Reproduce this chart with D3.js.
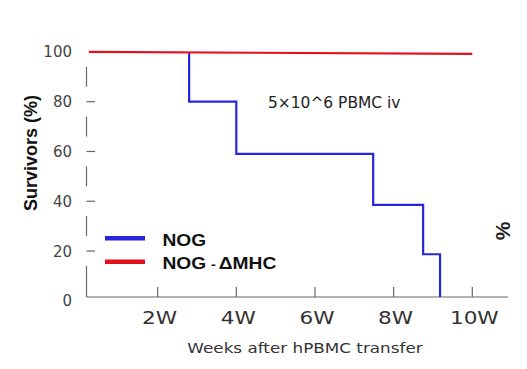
<!DOCTYPE html>
<html><head><meta charset="utf-8">
<script src="https://cdn.jsdelivr.net/npm/d3@7"></script>
<style>body{margin:0;background:#fff}svg{display:block}</style>
</head><body>
<svg id="c" width="527" height="369"></svg>
<script>
// ---- data ----
const xTicks = [2, 4, 6, 8, 10];
const xTickLabels = ["2W", "4W", "6W", "8W", "10W"];
const yTicks = [0, 20, 40, 60, 80, 100];
const yTickLabels = ["0", "20", "40", "60", "80", "100"];
// NOG (blue): step survival curve, [week, survivors %]
const nogWeeks = [2.8, 2.8, 4.0, 7.48, 8.75, 9.18];
const nogSurv  = [100, 80, 59, 38.5, 18.7, 0];
// NOG-ΔMHC (red)
const mhcWeeks = [0.25, 10.0];
const mhcSurv  = [100, 99.2];
const seriesNames = ["NOG", "NOG"];
const annotation = "5×10^6 PBMC iv";
const xTitle = "Weeks after hPBMC transfer";
const yTitle = "Survivors (%)";

const svg = d3.select("#c");
const x = d3.scaleLinear().domain([0, 10]).range([79, 472.3]);
const y = d3.scaleLinear().domain([0, 100]).range([300.8, 51.9]);
const baseY = 297;
const axisLeft = 86.5, axisRight = 508;
const axisColor = "#666";
const blue = "#2626dc", red = "#e3101c";
const sx = 1.2;

function stretchedText(g, tx, ty, str, anchor, s) {
  return g.append("text").attr("transform", `translate(${tx},${ty}) scale(${s || sx},1)`)
    .attr("text-anchor", anchor).text(str);
}

// x axis line
svg.append("line").attr("x1", axisLeft).attr("x2", axisRight)
  .attr("y1", baseY).attr("y2", baseY).attr("stroke", axisColor).attr("stroke-width", 1.2);
// x ticks
svg.selectAll(".xt").data(xTicks).join("line")
  .attr("x1", d => x(d)).attr("x2", d => x(d))
  .attr("y1", baseY).attr("y2", baseY - 10)
  .attr("stroke", axisColor).attr("stroke-width", 1.2);
const xl = svg.append("g").attr("font-family", "DejaVu Sans, sans-serif")
  .attr("font-size", 18).attr("fill", "#333");
xTicks.forEach((t, i) => stretchedText(xl, x(t) + 2, 323.5, xTickLabels[i], "middle"));

// y axis: broken segments between ticks
const segs = d3.range(0, 100, 20);
svg.selectAll(".ys").data(segs).join("line")
  .attr("x1", axisLeft).attr("x2", axisLeft)
  .attr("y1", d => y(d + 10) - 10)
  .attr("y2", d => d === 0 ? baseY : y(d + 10) + 10)
  .attr("stroke", axisColor).attr("stroke-width", 1.2);
svg.selectAll(".yt").data(yTicks.filter(d => d > 0 && d < 100)).join("line")
  .attr("x1", axisLeft).attr("x2", axisLeft + 8.5)
  .attr("y1", d => y(d)).attr("y2", d => y(d))
  .attr("stroke", axisColor).attr("stroke-width", 1.2);
const yl = svg.append("g").attr("font-family", "DejaVu Sans, sans-serif")
  .attr("font-size", 15).attr("fill", "#444");
yTicks.forEach((t, i) => yl.append("text").attr("x", 72).attr("y", y(t) + 5.5)
  .attr("text-anchor", "end").text(yTickLabels[i]));

// blue step line
const blueLine = d3.line().curve(d3.curveStepAfter)
  .x(d => x(d[0])).y(d => Math.min(y(d[1]), baseY));
const bluePts = nogWeeks.map((w, i) => [w, nogSurv[i]]);
svg.append("path").attr("d", blueLine(bluePts)).attr("fill", "none")
  .attr("stroke", blue).attr("stroke-width", 2.2);
// red line
const redLine = d3.line().x(d => x(d[0])).y(d => y(d[1]));
svg.append("path").attr("d", redLine(mhcWeeks.map((w, i) => [w, mhcSurv[i]])))
  .attr("fill", "none").attr("stroke", red).attr("stroke-width", 2.2);

// annotation
const an = svg.append("g").attr("font-family", "DejaVu Sans, sans-serif")
  .attr("font-size", 15).attr("fill", "#222");
stretchedText(an, 268, 107.5, annotation, "start", 1.03);

// axis titles
const xt = svg.append("g").attr("font-family", "DejaVu Sans, sans-serif")
  .attr("font-size", 14).attr("fill", "#333");
stretchedText(xt, 305, 353, xTitle, "middle");
svg.append("text").attr("transform", "translate(37,153) rotate(-90)")
  .attr("text-anchor", "middle").attr("font-family", "Liberation Sans, Arial, sans-serif")
  .attr("font-weight", "bold").attr("font-size", 18).attr("fill", "#111").text(yTitle);

// legend
const lg = svg.append("g");
lg.append("line").attr("x1", 105).attr("x2", 145).attr("y1", 238.3).attr("y2", 238.3)
  .attr("stroke", blue).attr("stroke-width", 4.5);
lg.append("line").attr("x1", 105).attr("x2", 145).attr("y1", 261.7).attr("y2", 261.7)
  .attr("stroke", red).attr("stroke-width", 4.5);
const lt = lg.append("g").attr("font-family", "Liberation Sans, Arial, sans-serif")
  .attr("font-weight", "bold").attr("fill", "#111");
const t1 = lt.append("text").attr("transform", `translate(162.5,245.5) scale(${sx},1)`)
  .attr("font-size", 16);
t1.append("tspan").text(seriesNames[0]);
const t2 = lt.append("text").attr("transform", `translate(162.5,268.5) scale(${sx},1)`)
  .attr("font-size", 16);
t2.append("tspan").text(seriesNames[1]);
t2.append("tspan").attr("font-size", 12).attr("dx", 4).text("-");
t2.append("tspan").attr("font-size", 16).attr("dx", 2.5).text("ΔMHC");

// stray percent sign on the right
svg.append("text").attr("transform", "translate(510,231) rotate(-90)")
  .attr("text-anchor", "middle").attr("font-family", "Liberation Sans, Arial, sans-serif")
  .attr("font-weight", "bold").attr("font-size", 21).attr("fill", "#222").text("%");
</script>
</body></html>
